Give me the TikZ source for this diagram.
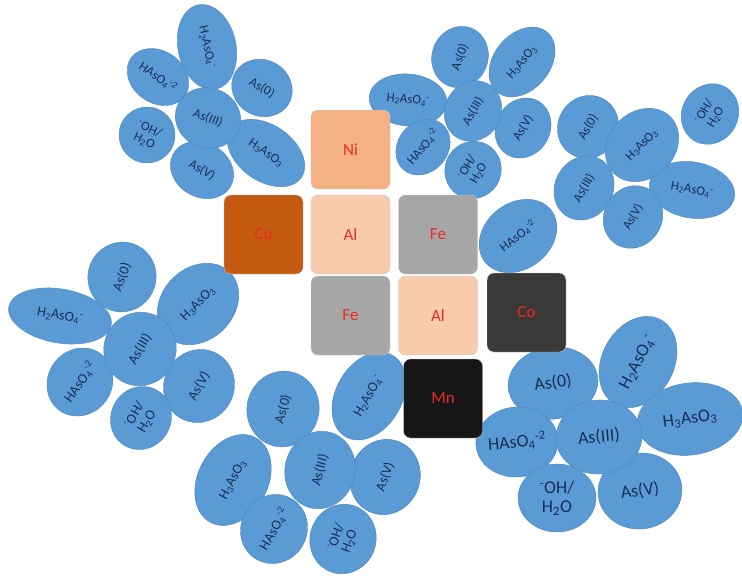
\documentclass[tikz,border=0pt]{standalone}
\usepackage{fontspec}
\setmainfont{Carlito}
\usepackage{tikz}
\usetikzlibrary{shapes.geometric}
\definecolor{asBlue}{HTML}{5B9BD5}
\definecolor{asEdge}{HTML}{4C84BC}
\definecolor{asInk}{HTML}{1A2E58}
\definecolor{metalRed}{HTML}{EE2A24}
\definecolor{niFill}{HTML}{F4B183}
\definecolor{cuFill}{HTML}{C55A11}
\definecolor{alFill}{HTML}{F8CBAD}
\definecolor{feFill}{HTML}{A6A6A6}
\definecolor{coFill}{HTML}{3B3838}
\definecolor{mnFill}{HTML}{161616}
\newcommand{\asHta}{H\textsubscript{2}AsO\textsubscript{4}\textsuperscript{-}}
\newcommand{\asHha}{HAsO\textsubscript{4}\textsuperscript{-2}}
\newcommand{\asHtt}{H\textsubscript{3}AsO\textsubscript{3}}
\newcommand{\asOhw}{\textsuperscript{-}OH/\\H\textsubscript{2}O}
\tikzset{
  asblob/.style={ellipse,draw=asEdge,fill=asBlue,thin,text=asInk,
    align=center,inner sep=0pt},
  smallset/.style={font=\fontsize{13}{13}\selectfont},
  midset/.style={font=\fontsize{14}{14}\selectfont},
  bigset/.style={font=\fontsize{18}{19}\selectfont},
  metal/.style={rounded corners=7pt,minimum size=79pt,draw=black!22,
    text=metalRed,font=\fontsize{17}{17}\selectfont}
}

\begin{document}
\begin{tikzpicture}[x=1pt,y=-1pt]
    \useasboundingbox (0,0) rectangle (742,576);
    % upper left group
    \begin{scope}[every node/.style={asblob,smallset}]
      \node[minimum width=86pt,minimum height=58pt,rotate=-78] (nwHta) at (207,47) {\asHta};
      \node[minimum width=66pt,minimum height=52pt,rotate=-35] (nwHha) at (158,77) {\asHha};
      \node[minimum width=62pt,minimum height=56pt,rotate=-30] (nwZero) at (262,88) {As(0)};
      \node[minimum width=56pt,minimum height=56pt,rotate=-25] (nwOhw) at (147,135) {\asOhw};
      \node[minimum width=66pt,minimum height=54pt,rotate=-30] (nwFive) at (202,170) {As(V)};
      \node[minimum width=86pt,minimum height=56pt,rotate=-35] (nwHtt) at (266,153) {\asHtt};
      \node[minimum width=66pt,minimum height=60pt,rotate=-20] (nwThree) at (208,118) {As(III)};
    \end{scope}
    % upper middle group
    \begin{scope}[every node/.style={asblob,smallset}]
      \node[minimum width=62pt,minimum height=56pt,rotate=70] (neZero) at (460,57) {As(0)};
      \node[minimum width=78pt,minimum height=56pt,rotate=50] (neHtt) at (522,62) {\asHtt};
      \node[minimum width=78pt,minimum height=52pt,rotate=-5] (neHta) at (408,100) {\asHta};
      \node[minimum width=62pt,minimum height=54pt,rotate=60] (neFive) at (523,128) {As(V)};
      \node[minimum width=58pt,minimum height=50pt,rotate=50] (neHha) at (423,147) {\asHha};
      \node[minimum width=58pt,minimum height=56pt,rotate=60] (neOhw) at (473,170) {\asOhw};
      \node[minimum width=62pt,minimum height=56pt,rotate=60] (neThree) at (473,111) {As(III)};
    \end{scope}
    % upper right group
    \begin{scope}[every node/.style={asblob,smallset}]
      \node[minimum width=64pt,minimum height=60pt,rotate=60] (eZero) at (588,127) {As(0)};
      \node[minimum width=62pt,minimum height=56pt,rotate=60] (eOhw) at (710,114) {\asOhw};
      \node[minimum width=66pt,minimum height=58pt,rotate=60] (eThree) at (584,188) {As(III)};
      \node[minimum width=86pt,minimum height=56pt,rotate=-10] (eHta) at (692,190) {\asHta};
      \node[minimum width=64pt,minimum height=58pt,rotate=60] (eFive) at (633,217) {As(V)};
      \node[minimum width=80pt,minimum height=66pt,rotate=45] (eHtt) at (642,145) {\asHtt};
      \node[minimum width=84pt,minimum height=66pt,rotate=38] (eHha) at (518,236) {\asHha};
    \end{scope}
    % left group
    \begin{scope}[every node/.style={asblob,midset}]
      \node[minimum width=70pt,minimum height=68pt,rotate=70] (wZero) at (122,277) {As(0)};
      \node[minimum width=104pt,minimum height=54pt,rotate=-10] (wHta) at (60,316) {\asHta};
      \node[minimum width=90pt,minimum height=72pt,rotate=45] (wHtt) at (198,304) {\asHtt};
      \node[minimum width=70pt,minimum height=64pt,rotate=55] (wHha) at (80,382) {\asHha};
      \node[minimum width=74pt,minimum height=70pt,rotate=60] (wFive) at (199,386) {As(V)};
      \node[minimum width=64pt,minimum height=60pt,rotate=60] (wOhw) at (141,418) {\asOhw};
      \node[minimum width=74pt,minimum height=72pt,rotate=60] (wThree) at (140,349) {As(III)};
    \end{scope}
    % lower middle group
    \begin{scope}[every node/.style={asblob,midset}]
      \node[minimum width=76pt,minimum height=72pt,rotate=75] (sZero) at (283,409) {As(0)};
      \node[minimum width=94pt,minimum height=66pt,rotate=60] (sHta) at (369,396) {\asHta};
      \node[minimum width=96pt,minimum height=70pt,rotate=62] (sHtt) at (233,480) {\asHtt};
      \node[minimum width=76pt,minimum height=70pt,rotate=70] (sFive) at (385,477) {As(V)};
      \node[minimum width=78pt,minimum height=70pt,rotate=75] (sThree) at (320,470) {As(III)};
      \node[minimum width=70pt,minimum height=66pt,rotate=60] (sHha) at (274,529) {\asHha};
      \node[minimum width=70pt,minimum height=66pt,rotate=70] (sOhw) at (343,539) {\asOhw};
    \end{scope}
    % lower right group
    \begin{scope}[every node/.style={asblob,bigset}]
      \node[minimum width=96pt,minimum height=72pt,rotate=62] (seHta) at (638,362) {\asHta};
      \node[minimum width=90pt,minimum height=72pt,rotate=8] (seZero) at (553,383) {As(0)};
      \node[minimum width=106pt,minimum height=72pt,rotate=8] (seHtt) at (690,419) {\asHtt};
      \node[minimum width=76pt,minimum height=70pt,rotate=5] (seHha) at (517,442) {\asHha};
      \node[minimum width=84pt,minimum height=76pt,rotate=8] (seFive) at (640,491) {As(V)};
      \node[minimum width=78pt,minimum height=68pt] (seOhw) at (557,498) {\asOhw};
      \node[minimum width=86pt,minimum height=74pt,rotate=5] (seThree) at (599,437) {As(III)};
    \end{scope}
    % metal blocks
    \node[metal,fill=niFill] (ni) at (350.5,149.5) {Ni};
    \node[metal,fill=cuFill] (cu) at (263.5,234.5) {Cu};
    \node[metal,fill=alFill] (alTop) at (350.5,234.5) {Al};
    \node[metal,fill=feFill] (feTop) at (438,234.5) {Fe};
    \node[metal,fill=feFill] (feLow) at (350.5,315.5) {Fe};
    \node[metal,fill=alFill] (alLow) at (438,315.5) {Al};
    \node[metal,fill=coFill] (co) at (526.5,312.5) {Co};
    \node[metal,fill=mnFill] (mn) at (443,398.5) {Mn};
  \end{tikzpicture}
\end{document}
